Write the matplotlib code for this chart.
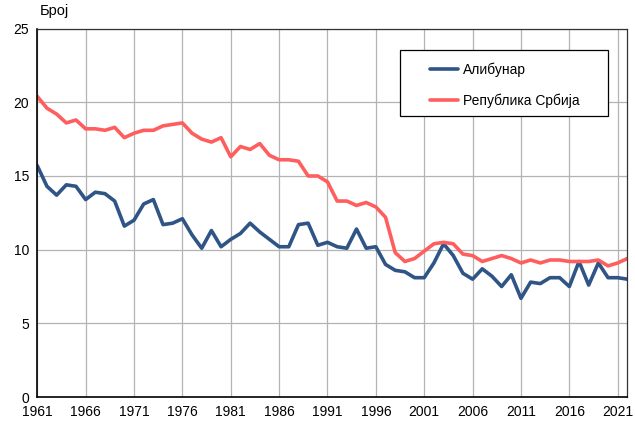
import matplotlib
matplotlib.use("Agg")
import matplotlib.pyplot as plt
from matplotlib.patches import Rectangle

plt.rcParams['font.family'] = ['Liberation Sans', 'DejaVu Sans']

years = list(range(1961, 2023))

alibunar = [
    15.7, 14.3, 13.7, 14.4, 14.3, 13.4, 13.9, 13.8, 13.3, 11.6,
    12.0, 13.1, 13.4, 11.7, 11.8, 12.1, 11.0, 10.1, 11.3, 10.2,
    10.7, 11.1, 11.8, 11.2, 10.7, 10.2, 10.2, 11.7, 11.8, 10.3,
    10.5, 10.2, 10.1, 11.4, 10.1, 10.2, 9.0, 8.6, 8.5, 8.1,
    8.1, 9.1, 10.4, 9.6, 8.4, 8.0, 8.7, 8.2, 7.5, 8.3,
    6.7, 7.8, 7.7, 8.1, 8.1, 7.5, 9.2, 7.6, 9.1, 8.1,
    8.1, 8.0,
]

srbija = [
    20.4, 19.6, 19.2, 18.6, 18.8, 18.2, 18.2, 18.1, 18.3, 17.6,
    17.9, 18.1, 18.1, 18.4, 18.5, 18.6, 17.9, 17.5, 17.3, 17.6,
    16.3, 17.0, 16.8, 17.2, 16.4, 16.1, 16.1, 16.0, 15.0, 15.0,
    14.6, 13.3, 13.3, 13.0, 13.2, 12.9, 12.2, 9.8, 9.2, 9.4,
    9.9, 10.4, 10.5, 10.4, 9.7, 9.6, 9.2, 9.4, 9.6, 9.4,
    9.1, 9.3, 9.1, 9.3, 9.3, 9.2, 9.2, 9.2, 9.3, 8.9,
    9.1, 9.4,
]

series_labels = ["Алибунар", "Република Србија"]
tick_years = list(range(1961, 2022, 5))

fig = plt.figure(figsize=(6.35, 4.21), dpi=100)
ax = fig.add_axes([0.0587, 0.0568, 0.9293, 0.8753])

ax.plot(years, alibunar, color='#2F5486', linewidth=2.6, label=series_labels[0],
        solid_joinstyle='round', solid_capstyle='round')
ax.plot(years, srbija, color='#FF5E5E', linewidth=2.6, label=series_labels[1],
        solid_joinstyle='round', solid_capstyle='round')

ax.set_xlim(1961, 2022)
ax.set_ylim(0, 25)
ax.set_xticks(tick_years)
ax.set_yticks(range(0, 26, 5))
ax.tick_params(axis='both', length=0, labelsize=10, colors='black', pad=6)
ax.grid(True, color='#B3B3B3', linewidth=0.9)
ax.set_axisbelow(True)
for side in ['left', 'bottom']:
    ax.spines[side].set_color('black')
    ax.spines[side].set_linewidth(1.2)
for side in ['top', 'right']:
    ax.spines[side].set_color('#333333')
    ax.spines[side].set_linewidth(0.9)

fig.text(0.063, 0.958, "Број", fontsize=10.5, ha='left', va='bottom')

# legend box drawn by hand so the padding matches the original
ax.add_patch(Rectangle((0.6146, 0.763), 0.967 - 0.6146, 0.942 - 0.763,
                       transform=ax.transAxes, facecolor='white', edgecolor='black',
                       linewidth=0.9, zorder=4))
leg = ax.legend(loc='center left', bbox_to_anchor=(0.6655, 0.847), fontsize=10,
                frameon=False, handlelength=2.0, borderpad=0, labelspacing=1.2,
                handletextpad=0.4, borderaxespad=0)
leg.set_zorder(5)

fig.savefig("out.png", dpi=100)
